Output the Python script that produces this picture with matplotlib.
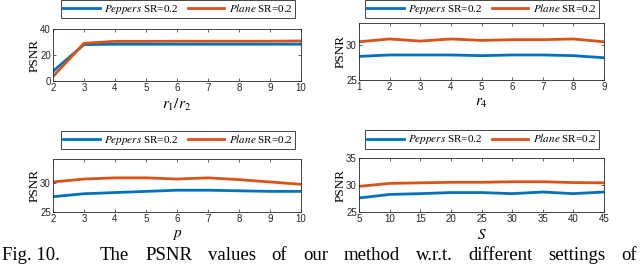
import matplotlib
matplotlib.use('Agg')
import matplotlib.pyplot as plt

# data
r12 = [2, 3, 4, 5, 6, 7, 8, 9, 10]
r12_peppers = [7.5, 28.0, 28.3, 28.3, 28.3, 28.3, 28.3, 28.3, 28.3]
r12_plane = [3.5, 29.0, 30.5, 30.5, 30.6, 30.6, 30.6, 30.6, 30.8]

r4 = [1, 2, 3, 4, 5, 6, 7, 8, 9]
r4_peppers = [28.4, 28.6, 28.6, 28.6, 28.5, 28.6, 28.6, 28.5, 28.2]
r4_plane = [30.5, 30.9, 30.6, 30.9, 30.7, 30.8, 30.8, 30.9, 30.5]

p_vals = [2, 3, 4, 5, 6, 7, 8, 9, 10]
p_peppers = [27.6, 28.1, 28.3, 28.5, 28.7, 28.7, 28.6, 28.5, 28.5]
p_plane = [30.1, 30.6, 30.8, 30.8, 30.6, 30.8, 30.5, 30.1, 29.7]

s_vals = [5, 10, 15, 20, 25, 30, 35, 40, 45]
s_peppers = [27.6, 28.25, 28.4, 28.6, 28.6, 28.4, 28.7, 28.4, 28.7]
s_plane = [29.75, 30.3, 30.4, 30.5, 30.5, 30.6, 30.6, 30.45, 30.4]

labels = [r'$\mathit{Peppers}$ SR=0.2', r'$\mathit{Plane}$ SR=0.2']
caption_head = 'Fig. 10.'
caption_words = ['The', 'PSNR', 'values', 'of', 'our', 'method',
                 'w.r.t.', 'different', 'settings', 'of']

BLUE = '#0072BD'
ORANGE = '#D95319'

plt.rcParams['font.family'] = ['Liberation Sans', 'DejaVu Sans']
plt.rcParams['mathtext.fontset'] = 'stix'

W, H = 640, 265
fig = plt.figure(figsize=(6.4, 2.65), dpi=100)


def px_axes(x0, y0, x1, y1):
    return fig.add_axes([x0 / W, 1 - y1 / H, (x1 - x0) / W, (y1 - y0) / H])


panels = [
    dict(box=(53, 29, 301, 81), x=r12, a=r12_peppers, b=r12_plane,
         ylim=(0, 40), yt=[0, 20, 40], xlab=r'$r_1/r_2$', leg=(178, 9)),
    dict(box=(359, 23, 604, 80), x=r4, a=r4_peppers, b=r4_plane,
         ylim=(25, 33.2), yt=[25, 30], xlab=r'$r_4$', leg=(482, 9)),
    dict(box=(53, 159, 301, 212), x=p_vals, a=p_peppers, b=p_plane,
         ylim=(25, 34), yt=[25, 30], xlab=r'$p$', leg=(178, 140)),
    dict(box=(359, 158, 604, 212), x=s_vals, a=s_peppers, b=s_plane,
         ylim=(25, 35), yt=[25, 30, 35], xlab=r'$S$', leg=(482, 139.5)),
]

for pn in panels:
    ax = px_axes(*pn['box'])
    l1, = ax.plot(pn['x'], pn['a'], color=BLUE, lw=2.0)
    l2, = ax.plot(pn['x'], pn['b'], color=ORANGE, lw=2.0)
    ax.set_xlim(pn['x'][0], pn['x'][-1])
    ax.set_ylim(*pn['ylim'])
    ax.set_xticks(pn['x'])
    ax.set_yticks(pn['yt'])
    ax.tick_params(direction='in', top=True, right=True, length=2.5,
                   width=0.5, labelsize=7, pad=1.5, colors='#262626')
    for sp in ax.spines.values():
        sp.set_linewidth(0.6)
        sp.set_color('#262626')
    ax.set_ylabel('PSNR', family='Liberation Serif', fontsize=9.5, labelpad=0)
    ax.set_xlabel(pn['xlab'], fontsize=11, labelpad=2.5)
    lx, ly = pn['leg']
    fig.legend([l1, l2], labels, loc='center', ncol=2,
               bbox_to_anchor=(lx / W, 1 - ly / H),
               prop={'family': 'Liberation Serif', 'size': 8},
               fancybox=False, edgecolor='#262626', framealpha=1,
               handlelength=3.3, handletextpad=0.4, columnspacing=0.8,
               borderpad=0.2, borderaxespad=0).get_frame().set_linewidth(0.6)

# justified caption line at the bottom edge
cap_font = dict(family='Liberation Serif', fontsize=13.5, va='baseline',
                ha='left')
base_y = 1 - 260 / H
fig.text(2 / W, base_y, caption_head, **cap_font)
renderer = fig.canvas.get_renderer()
texts = [fig.text(0, base_y, w, **cap_font) for w in caption_words]
widths = [t.get_window_extent(renderer).width for t in texts]
x_start, x_end = 100, 637
gap = (x_end - x_start - sum(widths)) / (len(texts) - 1)
x = x_start
for t, w in zip(texts, widths):
    t.set_x(x / W)
    x += w + gap

fig.savefig('out.png', dpi=100)
